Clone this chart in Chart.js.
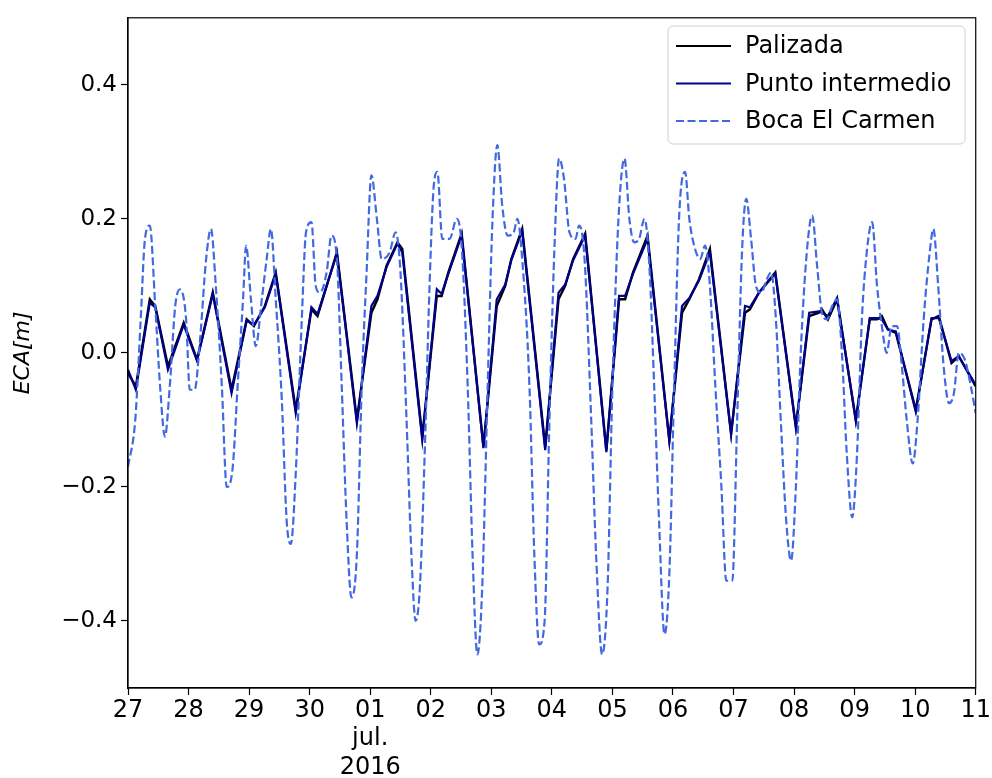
<!DOCTYPE html>
<html>
<head>
<meta charset="utf-8">
<script src="https://cdn.jsdelivr.net/npm/chart.js@4/dist/chart.umd.min.js"></script>
<style>
  html, body { margin: 0; padding: 0; background: #fff; }
  #wrap { width: 992px; height: 778px; position: relative; }
</style>
</head>
<body>
<div id="wrap"><canvas id="ecaChart" width="992" height="778"></canvas></div>
<script>
// Day labels (27 jun -> 11 jul 2016), x is days since 27 jun 00:00
const dayLabels = ['27', '28', '29', '30', '01', '02', '03', '04', '05', '06', '07', '08', '09', '10', '11'];
const yTicks = [-0.4, -0.2, 0.0, 0.2, 0.4];

// Palizada / Punto intermedio (same sampling times)
const solidDays = [0.00, 0.13, 0.36, 0.45, 0.66, 0.92, 1.14, 1.40, 1.71, 1.96, 2.08, 2.26, 2.44, 2.77, 3.03, 3.13, 3.45,
    3.78, 4.02, 4.12, 4.27, 4.45, 4.53, 4.86, 5.10, 5.18, 5.29, 5.51, 5.87, 6.09, 6.23, 6.33, 6.51, 6.89, 7.11, 7.22,
    7.35, 7.55, 7.90, 8.11, 8.21, 8.34, 8.58, 8.94, 9.15, 9.27, 9.43, 9.61, 9.96, 10.19, 10.27, 10.42, 10.69, 11.03,
    11.25, 11.41, 11.46, 11.56, 11.71, 12.02, 12.25, 12.37, 12.45, 12.55, 12.68, 13.01, 13.27, 13.39, 13.60, 13.72, 14.00];
const palizada = [-0.03, -0.05, 0.08, 0.07, -0.02, 0.045, -0.01, 0.09, -0.055, 0.05, 0.04, 0.07, 0.12, -0.085, 0.065, 0.055, 0.15,
    -0.10, 0.06, 0.08, 0.13, 0.165, 0.155, -0.125, 0.085, 0.085, 0.12, 0.178, -0.14, 0.07, 0.10, 0.14, 0.185, -0.14, 0.08, 0.10,
    0.14, 0.178, -0.145, 0.08, 0.08, 0.12, 0.175, -0.13, 0.06, 0.08, 0.11, 0.155, -0.12, 0.06, 0.065, 0.09, 0.12, -0.11,
    0.055, 0.06, 0.065, 0.05, 0.08, -0.10, 0.05, 0.05, 0.055, 0.035, 0.03, -0.085, 0.05, 0.055, -0.015, -0.005, -0.05];
const puntoIntermedio = [-0.025, -0.055, 0.075, 0.068, -0.025, 0.042, -0.012, 0.088, -0.06, 0.048, 0.042, 0.068, 0.118, -0.09, 0.068, 0.058, 0.148,
    -0.105, 0.07, 0.085, 0.128, 0.163, 0.15, -0.13, 0.095, 0.088, 0.118, 0.175, -0.142, 0.08, 0.102, 0.138, 0.182, -0.145, 0.09, 0.102,
    0.138, 0.175, -0.148, 0.085, 0.085, 0.118, 0.17, -0.132, 0.07, 0.082, 0.108, 0.15, -0.122, 0.07, 0.068, 0.09, 0.118, -0.112,
    0.06, 0.062, 0.06, 0.055, 0.082, -0.102, 0.052, 0.052, 0.05, 0.035, 0.032, -0.088, 0.052, 0.052, -0.012, -0.005, -0.048];

// Boca El Carmen
const bocaDays = [0.00, 0.12, 0.21, 0.28, 0.36, 0.45, 0.53, 0.61, 0.69, 0.78, 0.86, 0.96, 1.02, 1.10, 1.19, 1.29, 1.37, 1.45,
    1.55, 1.63, 1.73, 1.81, 1.90, 1.95, 2.03, 2.11, 2.21, 2.29, 2.36, 2.44, 2.54, 2.62, 2.69, 2.77, 2.87, 2.94, 3.03, 3.10,
    3.17, 3.28, 3.36, 3.45, 3.53, 3.61, 3.69, 3.78, 3.86, 3.94, 4.02, 4.11, 4.19, 4.32, 4.42, 4.50, 4.60, 4.68, 4.75, 4.82,
    4.90, 4.98, 5.05, 5.11, 5.19, 5.31, 5.43, 5.51, 5.61, 5.69, 5.77, 5.85, 5.94, 6.02, 6.10, 6.18, 6.27, 6.37, 6.43, 6.51,
    6.63, 6.71, 6.79, 6.88, 6.96, 7.04, 7.12, 7.20, 7.29, 7.39, 7.45, 7.54, 7.65, 7.73, 7.83, 7.92, 8.00, 8.10, 8.20, 8.28,
    8.36, 8.44, 8.53, 8.61, 8.69, 8.77, 8.86, 8.94, 9.02, 9.10, 9.20, 9.27, 9.35, 9.45, 9.53, 9.61, 9.70, 9.80, 9.88, 9.98,
    10.06, 10.14, 10.21, 10.29, 10.37, 10.46, 10.55, 10.62, 10.70, 10.78, 10.87, 10.95, 11.03, 11.11, 11.21, 11.30, 11.38,
    11.46, 11.54, 11.63, 11.71, 11.79, 11.87, 11.96, 12.04, 12.12, 12.20, 12.29, 12.37, 12.45, 12.53, 12.61, 12.70, 12.78,
    12.86, 12.96, 13.04, 13.14, 13.24, 13.30, 13.38, 13.47, 13.56, 13.64, 13.72, 13.82, 13.92, 14.00];
const bocaElCarmen = [-0.17, -0.10, 0.05, 0.17, 0.19, 0.07, -0.05, -0.125, -0.05, 0.07, 0.095, 0.05, -0.055, -0.055, 0.02, 0.14, 0.185, 0.10,
    -0.05, -0.20, -0.17, -0.05, 0.08, 0.16, 0.08, 0.01, 0.08, 0.14, 0.185, 0.08, -0.07, -0.25, -0.285, -0.18, 0.05, 0.18, 0.195, 0.10,
    0.09, 0.12, 0.175, 0.14, -0.05, -0.25, -0.365, -0.30, -0.05, 0.12, 0.265, 0.20, 0.14, 0.15, 0.18, 0.12, -0.10, -0.30, -0.40, -0.35,
    -0.15, 0.10, 0.25, 0.27, 0.17, 0.17, 0.20, 0.16, -0.05, -0.30, -0.45, -0.35, -0.05, 0.20, 0.31, 0.22, 0.175, 0.18, 0.20, 0.14,
    -0.05, -0.30, -0.435, -0.40, -0.10, 0.15, 0.29, 0.26, 0.18, 0.17, 0.19, 0.14, -0.10, -0.30, -0.45, -0.35, -0.05, 0.20, 0.29, 0.20,
    0.165, 0.17, 0.20, 0.13, -0.05, -0.25, -0.42, -0.33, -0.05, 0.20, 0.27, 0.20, 0.16, 0.14, 0.16, 0.10, -0.05, -0.20, -0.34, -0.34,
    -0.10, 0.15, 0.23, 0.17, 0.10, 0.09, 0.11, 0.12, 0.05, -0.10, -0.25, -0.31, -0.20, 0.00, 0.15, 0.205, 0.13,
    0.06, 0.05, 0.07, 0.08, 0.00, -0.15, -0.245, -0.15, 0.05, 0.15, 0.195, 0.10, 0.04, 0.00, 0.04, 0.04, -0.02,
    -0.10, -0.165, -0.10, 0.05, 0.15, 0.185, 0.10, -0.02, -0.075, -0.06, 0.00, -0.01, -0.05, -0.09];

const seriesNames = ['Palizada', 'Punto intermedio', 'Boca El Carmen'];
const seriesColors = ['#000000', '#00008b', '#4169e1'];

function toPoints(xs, ys) {
    return xs.map((x, i) => ({ x: x, y: ys[i] }));
}

Chart.defaults.font.family = '"DejaVu Sans", sans-serif';
Chart.defaults.color = '#000';

const DASH = [8, 3.5];
const FONT_SIZE = 24;

// matplotlib style frame + legend box
const framePlugin = {
    id: 'frame',
    afterDraw(chart) {
        const ctx = chart.ctx;
        const a = chart.chartArea;
        ctx.save();
        ctx.strokeStyle = '#000';
        ctx.lineWidth = 1.2;
        ctx.strokeRect(a.left, a.top, a.right - a.left, a.bottom - a.top);

        // legend
        const bx = 668, by = 26, bw = 297, bh = 118, r = 5;
        ctx.fillStyle = 'rgba(255,255,255,0.85)';
        ctx.strokeStyle = '#d0d0d0';
        ctx.lineWidth = 1;
        ctx.beginPath();
        ctx.moveTo(bx + r, by);
        ctx.arcTo(bx + bw, by, bx + bw, by + bh, r);
        ctx.arcTo(bx + bw, by + bh, bx, by + bh, r);
        ctx.arcTo(bx, by + bh, bx, by, r);
        ctx.arcTo(bx, by, bx + bw, by, r);
        ctx.closePath();
        ctx.fill();
        ctx.stroke();

        ctx.font = FONT_SIZE + 'px "DejaVu Sans"';
        ctx.textBaseline = 'middle';
        seriesNames.forEach((name, i) => {
            const yy = 46 + i * 37.5;
            ctx.strokeStyle = seriesColors[i];
            ctx.lineWidth = 2.2;
            ctx.setLineDash(i === 2 ? DASH : []);
            ctx.beginPath();
            ctx.moveTo(676, yy);
            ctx.lineTo(731, yy);
            ctx.stroke();
            ctx.setLineDash([]);
            ctx.fillStyle = '#000';
            ctx.fillText(name, 745, yy + 1);
        });
        ctx.restore();
    }
};

const ctx = document.getElementById('ecaChart').getContext('2d');
new Chart(ctx, {
    type: 'line',
    data: {
        datasets: [
            {
                label: seriesNames[0],
                data: toPoints(solidDays, palizada),
                borderColor: seriesColors[0],
                borderWidth: 2.4,
                pointRadius: 0,
                tension: 0,
                order: 3
            },
            {
                label: seriesNames[1],
                data: toPoints(solidDays, puntoIntermedio),
                borderColor: seriesColors[1],
                borderWidth: 2.2,
                pointRadius: 0,
                tension: 0,
                order: 2
            },
            {
                label: seriesNames[2],
                data: toPoints(bocaDays, bocaElCarmen),
                borderColor: seriesColors[2],
                borderWidth: 2.2,
                borderDash: DASH,
                pointRadius: 0,
                cubicInterpolationMode: 'monotone',
                order: 1
            }
        ]
    },
    options: {
        responsive: false,
        animation: false,
        layout: { padding: { top: 14, right: 15, left: 0, bottom: 0 } },
        plugins: {
            legend: { display: false },
            tooltip: { enabled: false }
        },
        scales: {
            x: {
                type: 'linear',
                min: 0,
                max: 14,
                afterFit: (scale) => { scale.height = 90; },
                afterBuildTicks: (scale) => {
                    scale.ticks = dayLabels.map((_, i) => ({ value: i }));
                },
                grid: { drawOnChartArea: false, color: '#000', tickLength: 7, tickWidth: 1.2 },
                border: { color: '#000', width: 1.2 },
                ticks: {
                    maxRotation: 0,
                    autoSkip: false,
                    padding: 1,
                    font: { size: FONT_SIZE, lineHeight: 1.2 },
                    callback: (v) => {
                        const lbl = dayLabels[Math.round(v)];
                        return lbl === '01' ? ['01', 'jul.', '2016'] : lbl;
                    }
                }
            },
            y: {
                min: -0.5,
                max: 0.5,
                afterFit: (scale) => { scale.width = 128; },
                afterBuildTicks: (scale) => {
                    scale.ticks = yTicks.map(v => ({ value: v }));
                },
                grid: { drawOnChartArea: false, color: '#000', tickLength: 7, tickWidth: 1.2 },
                border: { color: '#000', width: 1.2 },
                ticks: {
                    padding: 4,
                    font: { size: FONT_SIZE - 1 },
                    callback: (v) => (v < 0 ? '\u2212' : '') + Math.abs(v).toFixed(1)
                },
                title: {
                    display: true,
                    text: 'ECA[m]',
                    font: { size: 22, style: 'italic' },
                    padding: { top: 10, bottom: 0 }
                }
            }
        }
    },
    plugins: [framePlugin]
});
</script>
</body>
</html>
